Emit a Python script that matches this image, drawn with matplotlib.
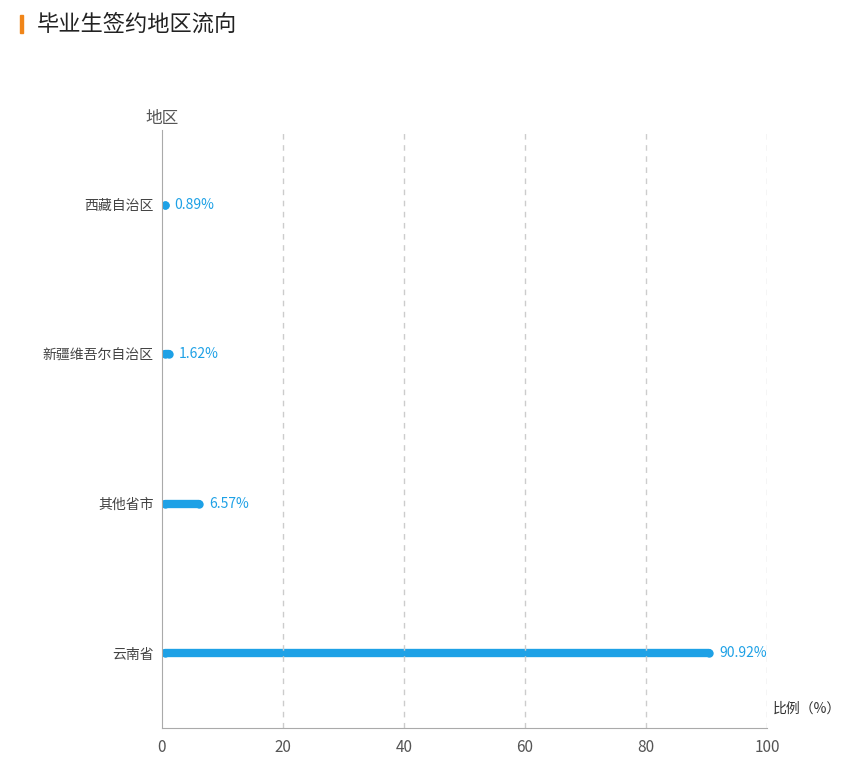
import matplotlib
matplotlib.use("Agg")
import matplotlib.pyplot as plt

plt.rcParams['font.family'] = ['Noto Sans CJK SC', 'DejaVu Sans']

regions = ["云南省", "其他省市", "新疆维吾尔自治区", "西藏自治区"]
shares = [90.92, 6.57, 1.62, 0.89]
xticks = [0, 20, 40, 60, 80, 100]

bar_color = "#1ea1e6"
axis_gray = "#aaaaaa"

fig = plt.figure(figsize=(8.49, 7.78), dpi=100)
ax = fig.add_axes([162 / 849, 50 / 778, 605 / 849, 598 / 778])

cap = 0.5  # round cap overhang in data units
for i, (name, val) in enumerate(zip(regions, shares)):
    end = max(val - cap, cap)
    ax.plot([cap, end], [i, i], color=bar_color, linewidth=6,
            solid_capstyle="round")
    # end dots so that very short bars stay visible
    ax.plot([cap, end], [i, i], color=bar_color, linestyle="none",
            marker="o", markersize=6, markeredgewidth=0)
    ax.text(val + 1.2, i, f"{val:.2f}%", color=bar_color, fontsize=10,
            va="center", ha="left")

ax.set_xlim(0, 100)
ax.set_ylim(-0.5, 3.5)
ax.set_xticks(xticks)
ax.set_xticklabels([str(t) for t in xticks], fontsize=11, color="#555555")
ax.set_yticks(range(len(regions)))
ax.set_yticklabels(regions, fontsize=10, color="#444444")
ax.tick_params(axis="both", length=0, pad=8)
ax.tick_params(axis="y", pad=6)

for t in xticks[1:]:
    ax.axvline(t, color="#cccccc", linestyle=(0, (4, 4)), linewidth=1)

for s in ["top", "right"]:
    ax.spines[s].set_visible(False)
for s in ["left", "bottom"]:
    ax.spines[s].set_color(axis_gray)

ax.text(0, 3.52, "地区", fontsize=12, color="#555555", ha="center",
        va="bottom", clip_on=False)
ax.text(101, -0.42, "比例（%）", fontsize=10, color="#333333", ha="left",
        va="bottom", clip_on=False)

fig.patches.append(plt.Rectangle((20 / 849, 1 - 33 / 778), 2.5 / 849, 18 / 778,
                                 transform=fig.transFigure, color="#f08519"))
fig.text(37 / 849, 1 - 24 / 778, "毕业生签约地区流向", fontsize=16,
         color="#222222", va="center", ha="left")

fig.savefig("out.png", dpi=100)
